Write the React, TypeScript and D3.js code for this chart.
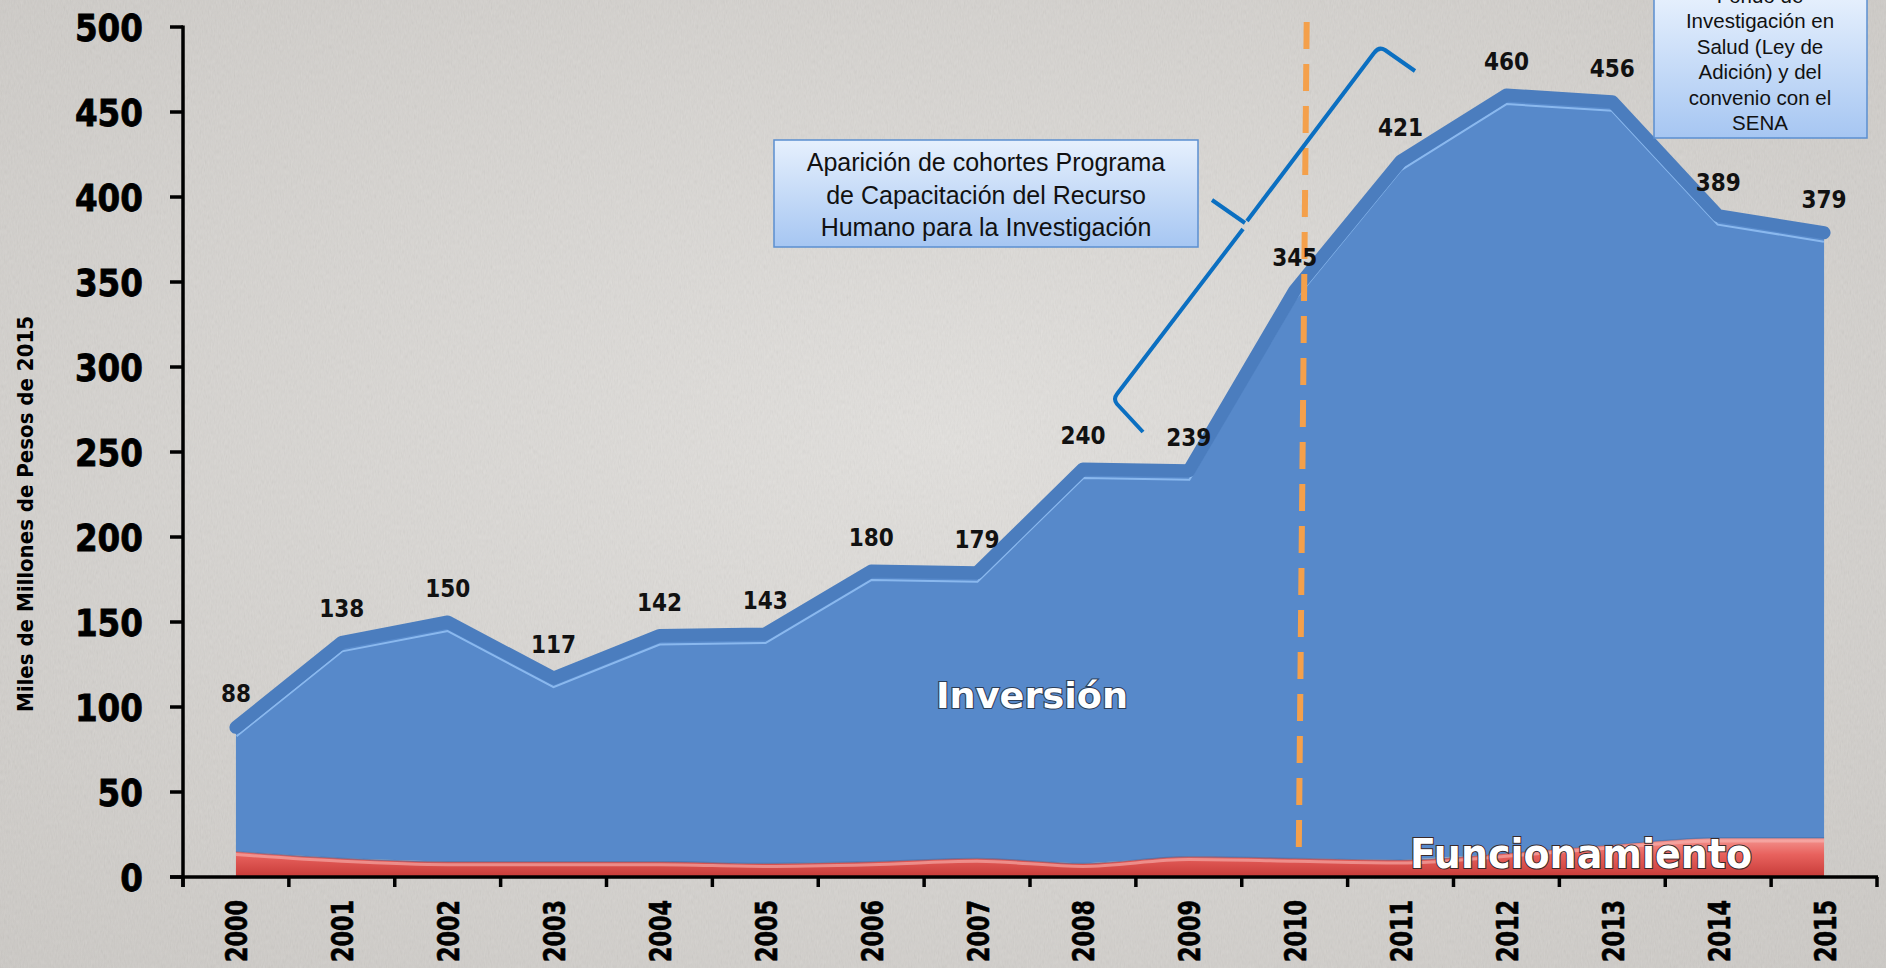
import React, { useEffect, useRef } from "react";
import * as d3 from "d3";

// values (miles de millones de pesos de 2015)
const years = ["2000", "2001", "2002", "2003", "2004", "2005", "2006", "2007", "2008", "2009", "2010", "2011", "2012", "2013", "2014", "2015"];
const totals = [88, 138, 150, 117, 142, 143, 180, 179, 240, 239, 345, 421, 460, 456, 389, 379];
const funcionamiento = [15, 11, 9, 9, 9, 8, 9, 11, 8, 12, 11, 10, 14, 19, 23, 23];
const yTicks = [0, 50, 100, 150, 200, 250, 300, 350, 400, 450, 500];

const boxLines = ["Aparición de cohortes Programa", "de Capacitación del Recurso", "Humano para la Investigación"];
const senaLines = ["Fondo de", "Investigación en", "Salud (Ley de", "Adición) y del", "convenio con el", "SENA"];
const yTitle = "Miles de Millones de Pesos de  2015";

const W = 1886;
const H = 968;

const condensed = "'DejaVu Sans Condensed', 'DejaVu Sans', sans-serif";
const wide = "'DejaVu Sans', Verdana, sans-serif";
const arial = "'Liberation Sans', Arial, sans-serif";

export default function App() {
  const svgRef = useRef<SVGSVGElement>(null);

  useEffect(() => {
    document.body.style.margin = "0";
    const svg = d3.select(svgRef.current).attr("width", W).attr("height", H);
    svg.selectAll("*").remove();

    const x = d3.scaleBand().domain(years).range([183, 1877]).paddingInner(0).paddingOuter(0);
    const cx = (yr: string) => (x(yr) as number) + x.bandwidth() / 2;
    const y = d3.scaleLinear().domain([0, 500]).range([877, 27]);

    const rows = years.map((yr, i) => ({
      year: yr,
      funcionamiento: funcionamiento[i],
      inversion: totals[i] - funcionamiento[i],
      total: totals[i],
    }));
    const stack = d3.stack<any>().keys(["funcionamiento", "inversion"])(rows);

    const defs = svg.append("defs");
    const bg = defs.append("radialGradient").attr("id", "bg").attr("cx", "50%").attr("cy", "45%").attr("r", "75%");
    bg.append("stop").attr("offset", 0).attr("stop-color", "#e4e2df");
    bg.append("stop").attr("offset", 1).attr("stop-color", "#cdcac6");

    const noise = defs.append("filter").attr("id", "noise").attr("x", 0).attr("y", 0).attr("width", "100%").attr("height", "100%");
    noise.append("feTurbulence").attr("type", "fractalNoise").attr("baseFrequency", "0.7 0.2").attr("numOctaves", 2).attr("seed", 4);
    noise
      .append("feColorMatrix")
      .attr("type", "matrix")
      .attr("values", "0.33 0.33 0.33 0 0  0.33 0.33 0.33 0 0  0.33 0.33 0.33 0 0  0 0 0 0 1");

    const red = defs.append("linearGradient").attr("id", "red").attr("gradientUnits", "userSpaceOnUse")
      .attr("x1", 0).attr("x2", 0).attr("y1", 836).attr("y2", 877);
    red.append("stop").attr("offset", 0).attr("stop-color", "#f59b96");
    red.append("stop").attr("offset", 0.45).attr("stop-color", "#e8625e");
    red.append("stop").attr("offset", 1).attr("stop-color", "#c73b38");

    const boxGrad = defs.append("linearGradient").attr("id", "box").attr("x1", 0).attr("x2", 0).attr("y1", 0).attr("y2", 1);
    boxGrad.append("stop").attr("offset", 0).attr("stop-color", "#e6f0fd");
    boxGrad.append("stop").attr("offset", 1).attr("stop-color", "#a6c6f2");

    // background
    svg.append("rect").attr("width", W).attr("height", H).attr("fill", "url(#bg)");
    svg.append("rect").attr("width", W).attr("height", H).attr("filter", "url(#noise)").attr("opacity", 0.1);

    // Inversión area
    const blueArea = d3.area<any>()
      .x((d) => cx(d.data.year))
      .y0((d) => y(d[0]))
      .y1((d) => y(d[1]));
    defs.append("clipPath").attr("id", "blueClip").append("path").attr("d", blueArea(stack[1]) as string);

    svg.append("path").attr("d", blueArea(stack[1]) as string).attr("fill", "#5789ca");

    const topLine = d3.line<any>().x((d) => cx(d.year)).y((d) => y(d.total));
    svg.append("path")
      .attr("d", topLine(rows) as string)
      .attr("clip-path", "url(#blueClip)")
      .attr("transform", "translate(0,8)")
      .attr("fill", "none")
      .attr("stroke", "#93c1f4")
      .attr("stroke-width", 4)
      .attr("opacity", 0.85);
    svg.append("path")
      .attr("d", topLine(rows) as string)
      .attr("fill", "none")
      .attr("stroke", "#4b7dbe")
      .attr("stroke-width", 13)
      .attr("stroke-linecap", "round")
      .attr("stroke-linejoin", "round");

    // Funcionamiento area
    const redArea = d3.area<any>()
      .curve(d3.curveMonotoneX)
      .x((d) => cx(d.data.year))
      .y0((d) => y(d[0]))
      .y1((d) => y(d[1]));
    const redTop = d3.line<any>().curve(d3.curveMonotoneX).x((d) => cx(d.data.year)).y((d) => y(d[1]));
    svg.append("path").attr("d", redArea(stack[0]) as string).attr("fill", "url(#red)");
    svg.append("path").attr("d", redTop(stack[0]) as string).attr("fill", "none")
      .attr("stroke", "#f9b4b0").attr("stroke-width", 3).attr("opacity", 0.6).attr("transform", "translate(0,3)");
    svg.append("path").attr("d", redTop(stack[0]) as string).attr("fill", "none")
      .attr("stroke", "#3f6aa3").attr("stroke-width", 1.2).attr("opacity", 0.6);

    // 2010 dashed marker
    const x2010 = cx("2010");
    svg.append("line")
      .attr("x1", x2010 + 12).attr("y1", 22)
      .attr("x2", x2010 + 4).attr("y2", 862)
      .attr("stroke", "#f4a04b")
      .attr("stroke-width", 6)
      .attr("stroke-dasharray", "27 15");

    // axes
    const axis = svg.append("g").attr("stroke", "#000").attr("stroke-width", 3.5);
    axis.append("line").attr("x1", 183).attr("x2", 183).attr("y1", y(500) - 1.5).attr("y2", 887);
    axis.append("line").attr("x1", 170).attr("x2", 1878).attr("y1", y(0)).attr("y2", y(0));
    axis.selectAll(".yt").data(yTicks).enter().append("line")
      .attr("x1", 170).attr("x2", 183).attr("y1", (d) => y(d)).attr("y2", (d) => y(d));
    const edges = years.map((yr) => x(yr) as number).concat([x.range()[1]]);
    axis.selectAll(".xt").data(edges).enter().append("line")
      .attr("x1", (d) => d).attr("x2", (d) => d).attr("y1", y(0)).attr("y2", 887);

    svg.append("g").selectAll("text").data(yTicks).enter().append("text")
      .attr("x", 143)
      .attr("y", (d) => y(d) + 13.5)
      .attr("text-anchor", "end")
      .attr("font-family", wide)
      .attr("font-weight", "bold")
      .attr("font-size", 37)
      .attr("textLength", (d) => String(d).length * 22.7)
      .attr("lengthAdjust", "spacingAndGlyphs")
      .attr("fill", "#000")
      .attr("stroke", "#000")
      .attr("stroke-width", 0.8)
      .text((d) => d);

    svg.append("g").selectAll("text").data(years).enter().append("text")
      .attr("transform", (d) => `translate(${cx(d) + 11.5},900) rotate(-90)`)
      .attr("text-anchor", "end")
      .attr("font-family", wide)
      .attr("font-weight", "bold")
      .attr("font-size", 31)
      .attr("textLength", 62)
      .attr("lengthAdjust", "spacingAndGlyphs")
      .attr("fill", "#000")
      .attr("stroke", "#000")
      .attr("stroke-width", 0.6)
      .text((d) => d);

    svg.append("text")
      .attr("transform", "translate(33,712) rotate(-90)")
      .attr("font-family", condensed)
      .attr("font-stretch", "condensed")
      .attr("font-weight", "bold")
      .attr("font-size", 22)
      .attr("textLength", 396)
      .attr("lengthAdjust", "spacingAndGlyphs")
      .attr("fill", "#000")
      .text(yTitle);

    // value labels
    svg.append("g").selectAll("text").data(rows).enter().append("text")
      .attr("x", (d) => cx(d.year))
      .attr("y", (d) => y(d.total) - 25)
      .attr("text-anchor", "middle")
      .attr("font-family", condensed)
      .attr("font-stretch", "condensed")
      .attr("font-weight", "bold")
      .attr("font-size", 24)
      .attr("fill", "#111")
      .text((d) => d.total);

    // series names
    svg.append("text")
      .attr("x", 1032).attr("y", 708)
      .attr("text-anchor", "middle")
      .attr("font-family", condensed).attr("font-stretch", "condensed")
      .attr("font-weight", "bold").attr("font-size", 36)
      .attr("textLength", 192).attr("lengthAdjust", "spacingAndGlyphs")
      .attr("fill", "#fff").attr("stroke", "#2c3e58").attr("stroke-width", 2)
      .attr("paint-order", "stroke")
      .text("Inversión");
    svg.append("text")
      .attr("x", 1410).attr("y", 868)
      .attr("font-family", condensed).attr("font-stretch", "condensed")
      .attr("font-weight", "bold").attr("font-size", 41)
      .attr("textLength", 342).attr("lengthAdjust", "spacingAndGlyphs")
      .attr("fill", "#fff").attr("stroke", "#3a2a2a").attr("stroke-width", 2)
      .attr("paint-order", "stroke")
      .text("Funcionamiento");

    // brace
    svg.append("path")
      .attr("d", "M1143,432 L1117,404 Q1113,399 1117,394 L1243,229 M1212,200 L1245,223 M1247,221 L1374,53 Q1379,46 1385,50 L1415,71")
      .attr("fill", "none")
      .attr("stroke", "#0b6fc1")
      .attr("stroke-width", 4)
      .attr("stroke-linejoin", "round");

    // annotation boxes
    svg.append("rect").attr("x", 774).attr("y", 140).attr("width", 424).attr("height", 107)
      .attr("fill", "url(#box)").attr("stroke", "#5b8fd0").attr("stroke-width", 1.5);
    svg.append("g").selectAll("text").data(boxLines).enter().append("text")
      .attr("x", 986).attr("y", (d, i) => 171 + i * 32.5)
      .attr("text-anchor", "middle").attr("font-family", arial).attr("font-size", 25)
      .attr("fill", "#111").text((d) => d);

    svg.append("rect").attr("x", 1654).attr("y", -4).attr("width", 213).attr("height", 142)
      .attr("fill", "url(#box)").attr("stroke", "#5b8fd0").attr("stroke-width", 1.5);
    svg.append("g").selectAll("text").data(senaLines).enter().append("text")
      .attr("x", 1760).attr("y", (d, i) => 2.5 + i * 25.5)
      .attr("text-anchor", "middle").attr("font-family", arial).attr("font-size", 20.5)
      .attr("fill", "#111").text((d) => d);

    return () => {
      svg.selectAll("*").remove();
    };
  }, []);

  return <svg ref={svgRef} style={{ display: "block" }} />;
}
